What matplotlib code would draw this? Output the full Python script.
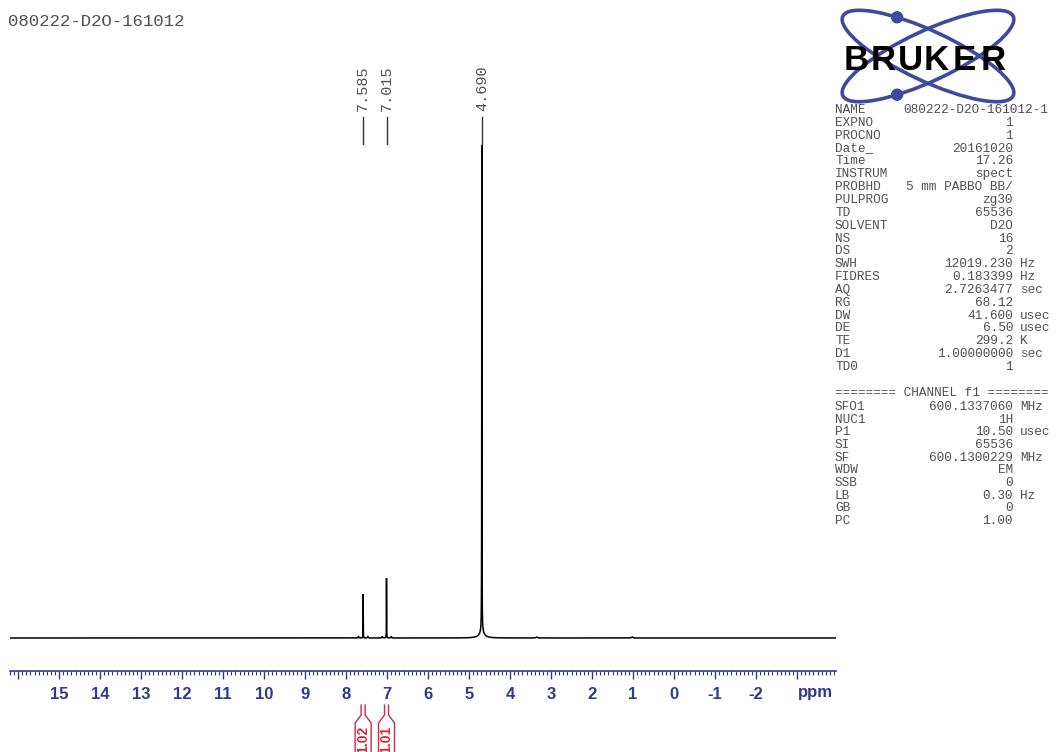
import numpy as np
import matplotlib
matplotlib.use("Agg")
import matplotlib.pyplot as plt
from matplotlib import transforms
from matplotlib.patches import Ellipse, Circle
from matplotlib.ticker import MultipleLocator, FixedLocator, FuncFormatter

# ---------------- data ----------------
title = "080222-D2O-161012"
labelled_ppm = [7.585, 7.015, 4.690]
labelled_txt = ["7.585", "7.015", "4.690"]

# spectral lines (shift, relative height, half width in ppm)
line_ppm = [7.585, 7.015, 4.690, 4.690, 4.690, 7.700, 7.470, 6.900, 7.120, 3.350, 1.020]
line_height = [0.090, 0.123, 0.975, 0.028, 0.010, 0.003, 0.003, 0.003, 0.003, 0.002, 0.002]
line_hwhm = [0.0022, 0.0022, 0.0025, 0.012, 0.08, 0.01, 0.01, 0.01, 0.01, 0.02, 0.02]

integ_ppm = [7.585, 7.015]
integ_val = ["1.02", "1.01"]

x_range = (16.2, -3.95)
major_ticks = list(range(16, -4, -1))
shown_labels = list(range(15, -3, -1))

par_names = ["NAME", "EXPNO", "PROCNO", "Date_", "Time", "INSTRUM", "PROBHD",
             "PULPROG", "TD", "SOLVENT", "NS", "DS", "SWH", "FIDRES", "AQ", "RG",
             "DW", "DE", "TE", "D1", "TD0"]
par_values = ["080222-D2O-161012-1", "1", "1", "20161020", "17.26", "spect",
              "5 mm PABBO BB/", "zg30", "65536", "D2O", "16", "2", "12019.230",
              "0.183399", "2.7263477", "68.12", "41.600", "6.50", "299.2",
              "1.00000000", "1"]
par_units = ["", "", "", "", "", "", "", "", "", "", "", "", "Hz", "Hz", "sec", "",
             "usec", "usec", "K", "sec", ""]

ch_names = ["SFO1", "NUC1", "P1", "SI", "SF", "WDW", "SSB", "LB", "GB", "PC"]
ch_values = ["600.1337060", "1H", "10.50", "65536", "600.1300229", "EM", "0",
             "0.30", "0", "1.00"]
ch_units = ["MHz", "", "usec", "", "MHz", "", "", "Hz", "", ""]

# ---------------- figure ----------------
W, H = 1057, 752
fig = plt.figure(figsize=(W / 100, H / 100), dpi=100)
fig.patch.set_facecolor("white")

axis_y = 671  # pixel row of ppm scale
ax = fig.add_axes([10 / W, (H - axis_y) / H, 826 / W, (axis_y - 40) / H])
ax.set_xlim(*x_range)
ax.set_ylim(-0.0676, 1.2254)

ppm = np.linspace(x_range[0], x_range[1], 60000)
spec = np.zeros_like(ppm)
for c, h, w in zip(line_ppm, line_height, line_hwhm):
    spec += h * w ** 2 / ((ppm - c) ** 2 + w ** 2)
ax.plot(ppm, spec, color="black", lw=1.1, solid_joinstyle="miter")

navy = "#2E3A8A"
for s in ["top", "left", "right"]:
    ax.spines[s].set_visible(False)
ax.spines["bottom"].set_color(navy)
ax.spines["bottom"].set_linewidth(1.2)
ax.set_yticks([])
ax.xaxis.set_major_locator(FixedLocator(major_ticks))
ax.xaxis.set_minor_locator(MultipleLocator(0.1))
ax.xaxis.set_major_formatter(FuncFormatter(
    lambda v, p: f"{int(round(v))}" if int(round(v)) in shown_labels else ""))
ax.tick_params(axis="x", which="major", direction="out", length=5.8, width=1.0,
               color=navy, pad=5.5, labelsize=12, labelcolor=navy)
ax.tick_params(axis="x", which="minor", direction="out", length=2.9, width=0.8,
               color=navy)
for lab in ax.get_xticklabels():
    lab.set_fontweight("bold")
    lab.set_fontfamily("Liberation Sans")
ax.annotate("ppm", xy=(-3.45, 0), xycoords=("data", "axes fraction"),
            xytext=(0, -15.8), textcoords="offset points", ha="center", va="center",
            fontsize=12, fontweight="bold", color=navy, family="Liberation Sans")

# overlay in pixel coordinates
ov = fig.add_axes([0, 0, 1, 1])
ov.set_autoscale_on(False)
ov.set_xlim(0, W)
ov.set_ylim(H, 0)
ov.axis("off")
blend = transforms.blended_transform_factory(ax.transData, ov.transData)

gray = "#505050"
ov.text(8, 21, title, family="Liberation Mono", fontsize=12.5, color=gray,
        ha="left", va="center")

# peak labels
for p, t in zip(labelled_ppm, labelled_txt):
    ov.text(p, 88, t, transform=blend, rotation=90, ha="center", va="center",
            family="Liberation Mono", fontsize=11, color=gray)
    ov.plot([p, p], [117, 144], transform=blend, color="#303030", lw=1.0)

# integrals
red = "#D22B3C"
fig.canvas.draw()
for p, v in zip(integ_ppm, integ_val):
    cx = ax.transData.transform((p, 0))[0]
    for sgn in (-1, 1):
        ov.plot([cx + sgn * 2, cx + sgn * 2, cx + sgn * 8, cx + sgn * 8],
                [705, 715, 723, 760], color=red, lw=1.0, clip_on=False)
    ov.text(cx, 739, v, rotation=90, ha="center", va="center", color=red,
            fontsize=10, fontweight="bold", family="Liberation Sans")

# parameter block
x0 = 835
row_h = 12.85
for i, (n, v, u) in enumerate(zip(par_names, par_values, par_units)):
    y = 110 + i * row_h
    ov.text(x0, y, n, family="Liberation Mono", fontsize=9.2, color=gray,
            ha="left", va="center")
    if i == 0:
        ov.text(903, y, v, family="Liberation Mono", fontsize=9.2, color=gray,
                ha="left", va="center")
    else:
        ov.text(1013, y, v, family="Liberation Mono", fontsize=9.2, color=gray,
                ha="right", va="center")
    if u:
        ov.text(1020, y, u, family="Liberation Mono", fontsize=9.2, color=gray,
                ha="left", va="center")

ov.text(x0, 393, "======== CHANNEL f1 ========", family="Liberation Mono",
        fontsize=9.2, color=gray, ha="left", va="center")
for i, (n, v, u) in enumerate(zip(ch_names, ch_values, ch_units)):
    y = 407 + i * 12.67
    ov.text(x0, y, n, family="Liberation Mono", fontsize=9.2, color=gray,
            ha="left", va="center")
    ov.text(1013, y, v, family="Liberation Mono", fontsize=9.2, color=gray,
            ha="right", va="center")
    if u:
        ov.text(1020, y, u, family="Liberation Mono", fontsize=9.2, color=gray,
                ha="left", va="center")

# Bruker logo
logo_blue = "#3D4A9E"
cx0, cy0, a, b = 928, 56, 188, 50
for ang in (25, -25):
    ov.add_patch(Ellipse((cx0, cy0), a, b, angle=ang, fill=False,
                         ec=logo_blue, lw=2.6, zorder=2))
# dots on the orbits
t = np.linspace(0, 2 * np.pi, 720)
for ang, target_x, upper in ((25, 897, True), (-25, 897, False)):
    th = np.deg2rad(ang)
    ex = a / 2 * np.cos(t) * np.cos(th) - b / 2 * np.sin(t) * np.sin(th) + cx0
    ey = a / 2 * np.cos(t) * np.sin(th) + b / 2 * np.sin(t) * np.cos(th) + cy0
    mask = ey < cy0 if upper else ey > cy0
    idx = np.argmin(np.abs(ex - target_x) + np.where(mask, 0, 1e6))
    ov.add_patch(Circle((ex[idx], ey[idx]), 5.5, color=logo_blue, zorder=3))
for ch, xc in zip("BRUKER", [856, 883, 910, 936, 964, 993]):
    ov.text(xc, 60, ch, ha="center", va="center", fontsize=25, fontweight="bold",
            family="Liberation Sans", color="black", zorder=4)

fig.savefig("out.png", dpi=100, facecolor="white")
